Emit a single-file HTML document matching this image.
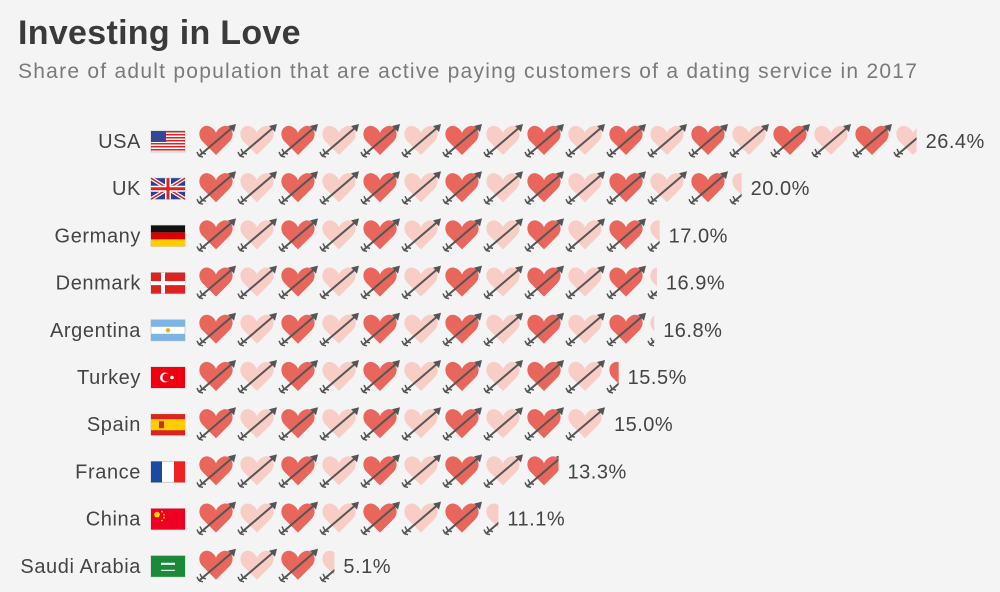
<!DOCTYPE html>
<html><head><meta charset="utf-8"><style>
body{margin:0;background:#f4f4f4;font-family:"Liberation Sans",sans-serif;}
#wrap{position:relative;width:1000px;height:592px;overflow:hidden;background:#f4f4f4}
h1{position:absolute;left:18px;top:14px;margin:0;font-size:34px;font-weight:bold;color:#3a3a3a;letter-spacing:0.3px}
.sub{position:absolute;left:18px;top:60px;font-size:21px;color:#7a7a7a;letter-spacing:1.25px;white-space:nowrap}
</style></head><body>
<div id="wrap">
<h1>Investing in Love</h1>
<div class="sub">Share of adult population that are active paying customers of a dating service in 2017</div>
<svg id="svg" width="1000" height="592" style="position:absolute;left:0;top:0"></svg>
</div>
<script>
const countries=["USA","UK","Germany","Denmark","Argentina","Turkey","Spain","France","China","Saudi Arabia"];
const values=[26.4,20.0,17.0,16.9,16.8,15.5,15.0,13.3,11.1,5.1];
const labels=["26.4%","20.0%","17.0%","16.9%","16.8%","15.5%","15.0%","13.3%","11.1%","5.1%"];
const perIcon=1.5;
const NS="http://www.w3.org/2000/svg";
const svg=document.getElementById('svg');
function mk(t,a,p){const e=document.createElementNS(NS,t);for(const k in a)e.setAttribute(k,a[k]);(p||svg).appendChild(e);return e;}
const x0=198,step=41,y0=141,rowH=47.2;
function yPos(i){return y0+i*rowH;}
function flag(g,c){
 const W=34,H=21;
 mk('rect',{x:0,y:0,width:W,height:H,fill:'#fff',stroke:'#ccc','stroke-width':1},g);
 if(c==="USA"){for(let s=0;s<7;s++)mk('rect',{x:0,y:s*3,width:W,height:1.5,fill:'#d22'},g);mk('rect',{x:0,y:0,width:15,height:11,fill:'#33479a'},g);}
 else if(c==="UK"){mk('rect',{x:0,y:0,width:W,height:H,fill:'#27409a'},g);mk('path',{d:'M0 0L34 21M34 0L0 21',stroke:'#fff','stroke-width':4},g);mk('path',{d:'M0 0L34 21M34 0L0 21',stroke:'#d22','stroke-width':1.5},g);mk('path',{d:'M17 0V21M0 10.5H34',stroke:'#fff','stroke-width':6},g);mk('path',{d:'M17 0V21M0 10.5H34',stroke:'#d22','stroke-width':3},g);}
 else if(c==="Germany"){mk('rect',{x:0,y:0,width:W,height:7,fill:'#111'},g);mk('rect',{x:0,y:7,width:W,height:7,fill:'#d00'},g);mk('rect',{x:0,y:14,width:W,height:7,fill:'#fc0'},g);}
 else if(c==="Denmark"){mk('rect',{x:0,y:0,width:W,height:H,fill:'#d22'},g);mk('path',{d:'M12 0V21M0 10.5H34',stroke:'#fff','stroke-width':4},g);}
 else if(c==="Argentina"){mk('rect',{x:0,y:0,width:W,height:7,fill:'#7cb4e4'},g);mk('rect',{x:0,y:14,width:W,height:7,fill:'#7cb4e4'},g);mk('circle',{cx:17,cy:10.5,r:2.2,fill:'#f0b400'},g);}
 else if(c==="Turkey"){mk('rect',{x:0,y:0,width:W,height:H,fill:'#e01'},g);mk('circle',{cx:14,cy:10.5,r:5,fill:'#fff'},g);mk('circle',{cx:15.5,cy:10.5,r:4,fill:'#e01'},g);mk('circle',{cx:21,cy:10.5,r:1.8,fill:'#fff'},g);}
 else if(c==="Spain"){mk('rect',{x:0,y:0,width:W,height:H,fill:'#c61'},g);mk('rect',{x:0,y:0,width:W,height:5,fill:'#d22'},g);mk('rect',{x:0,y:16,width:W,height:5,fill:'#d22'},g);mk('rect',{x:0,y:5,width:W,height:11,fill:'#fc0'},g);mk('rect',{x:8,y:7,width:5,height:7,fill:'#b33'},g);}
 else if(c==="France"){mk('rect',{x:0,y:0,width:11,height:H,fill:'#1b4aa0'},g);mk('rect',{x:23,y:0,width:11,height:H,fill:'#e22'},g);}
 else if(c==="China"){mk('rect',{x:0,y:0,width:W,height:H,fill:'#e02'},g);mk('circle',{cx:6,cy:6,r:2.8,fill:'#fd0'},g);[[11,3],[13,6],[13,9],[11,12]].forEach(p=>mk('circle',{cx:p[0],cy:p[1],r:0.9,fill:'#fd0'},g));}
 else if(c==="Saudi Arabia"){mk('rect',{x:0,y:0,width:W,height:H,fill:'#1a8a3a'},g);mk('rect',{x:10,y:7,width:14,height:2,fill:'#fff'},g);mk('rect',{x:10,y:14,width:14,height:1,fill:'#fff'},g);}
}
function icon(g,x,y,color,frac,id){
 const grp=mk('g',{transform:`translate(${x},${y-17})`},g);
 if(frac<1){const cp=mk('clipPath',{id:id},svg);mk('rect',{x:-3,y:-5,width:frac*step,height:45},cp);grp.setAttribute('clip-path',`url(#${id})`);}
 mk('path',{d:'M18 31 L5 18 C-2 11 2 1 10 2 C14 3 17 6 18 9 C19 6 22 3 26 2 C34 1 38 11 31 18 Z',fill:color},grp);
 mk('path',{d:'M1 32 L35 3',stroke:'#555','stroke-width':2,fill:'none'},grp);
 mk('path',{d:'M38 0 L30 2 L36 8 Z',fill:'#555'},grp);
 mk('path',{d:'M1 32 L-1 28 M1 32 L5 33 M4 29 L2 25 M4 29 L8 30',stroke:'#555','stroke-width':1.5,fill:'none'},grp);
}
countries.forEach((c,i)=>{
 const y=yPos(i);
 const row=mk('g',{});
 
 
 const t=mk('text',{x:141,y:y+7,'text-anchor':'end','font-size':20,'letter-spacing':0.6,fill:'#444'},row);t.textContent=c;
 
 
 const fg=mk('g',{transform:`translate(151,${y-10})`},row);
 
 
 flag(fg,c);
 const n=values[i]/perIcon;
 const full=Math.floor(n);
 for(let k=0;k<Math.ceil(n);k++){
  const f=k<full?1:n-full;
  icon(row,x0+k*step,y,k%2===0?'#e8665b':'#f8cdc6',f,'cp'+i+'_'+k);
 }
 const vt=mk('text',{x:x0+n*step+6,y:y+7,'font-size':20,'letter-spacing':0.5,fill:'#444'},row);vt.textContent=labels[i];
 
 
});
</script>
</body></html>
